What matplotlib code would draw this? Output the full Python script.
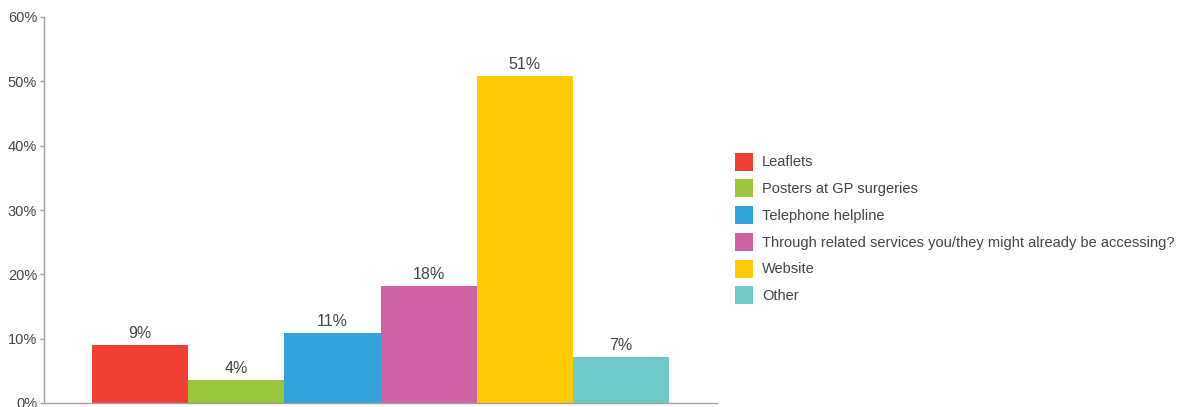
import math
import matplotlib
matplotlib.use("Agg")
import matplotlib.pyplot as plt
from matplotlib.ticker import FuncFormatter, MultipleLocator

# Survey responses: how people would like to find out about the service
categories = [
    "Leaflets",
    "Posters at GP surgeries",
    "Telephone helpline",
    "Through related services you/they might already be accessing?",
    "Website",
    "Other",
]
percentages = [9.0, 3.5, 10.9, 18.2, 50.8, 7.2]
colors = ["#f03e32", "#9bc53d", "#33a3dc", "#cf62a5", "#fecb05", "#6fc9c6"]

plt.rcParams["font.family"] = ["Liberation Sans", "DejaVu Sans"]
text_color = "#444444"
axis_color = "#a0a0a0"

fig = plt.figure(figsize=(11.78, 4.07), dpi=100)
W, H = 1178, 407
ax = fig.add_axes([44 / W, 4 / H, (717 - 44) / W, (403 - 17) / H])

x = list(range(len(categories)))
bars = ax.bar(x, percentages, width=1.0, color=colors, label=categories,
              linewidth=0, zorder=2)

for bar, val in zip(bars, percentages):
    ax.annotate(f"{math.floor(val + 0.5)}%",
                xy=(bar.get_x() + bar.get_width() / 2, bar.get_height()),
                xytext=(0, 3), textcoords="offset points",
                ha="center", va="bottom", fontsize=11.5, color=text_color)

ax.set_xlim(-1, len(categories))
ax.set_ylim(0, 60)
ax.yaxis.set_major_locator(MultipleLocator(10))
ax.yaxis.set_major_formatter(FuncFormatter(lambda v, _: f"{v:.0f}%"))
ax.set_xticks([])

for side in ("top", "right"):
    ax.spines[side].set_visible(False)
for side in ("left", "bottom"):
    ax.spines[side].set_color(axis_color)
    ax.spines[side].set_linewidth(1.0)
ax.tick_params(axis="y", length=3, width=1, color=axis_color, pad=2,
               labelsize=10.5, labelcolor=text_color)

leg = fig.legend(handles=bars, labels=categories,
                 loc="center left", bbox_to_anchor=(729 / W, 1 - 228.5 / H),
                 frameon=False, fontsize=10.5,
                 handlelength=1.25, handleheight=1.52,
                 handletextpad=0.6, labelspacing=0.6,
                 borderpad=0.4, borderaxespad=0)
for t in leg.get_texts():
    t.set_color(text_color)

fig.savefig("out.png", dpi=100)
